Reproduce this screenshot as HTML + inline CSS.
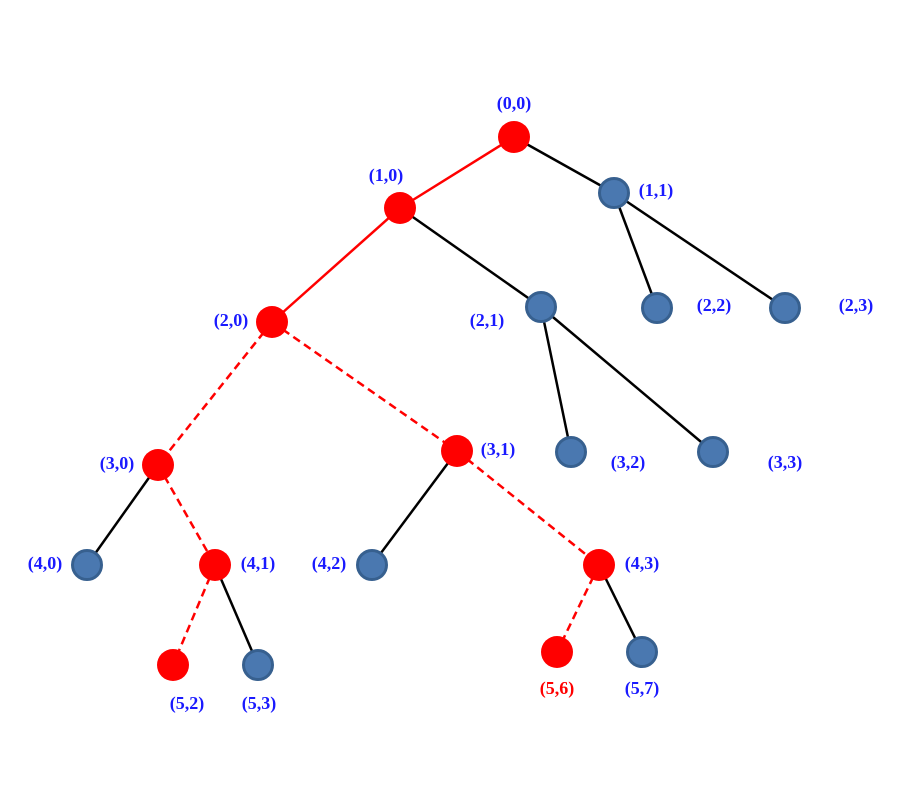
<!DOCTYPE html>
<html><head><style>body{margin:0;background:#fff}svg{display:block}text{font-family:"Liberation Serif",serif;font-weight:bold;font-size:18px;fill:#1a1aff;text-anchor:middle;dominant-baseline:middle}</style></head>
<body><svg width="900" height="800" viewBox="0 0 900 800">
<g stroke-width="2.5" fill="none">
<line x1="514" y1="137" x2="400" y2="208" stroke="#f00"/>
<line x1="514" y1="137" x2="614" y2="193" stroke="#000"/>
<line x1="400" y1="208" x2="272" y2="322" stroke="#f00"/>
<line x1="400" y1="208" x2="541" y2="307" stroke="#000"/>
<line x1="614" y1="193" x2="657" y2="308" stroke="#000"/>
<line x1="614" y1="193" x2="785" y2="308" stroke="#000"/>
<line x1="541" y1="307" x2="571" y2="452" stroke="#000"/>
<line x1="541" y1="307" x2="713" y2="452" stroke="#000"/>
<line x1="272" y1="322" x2="158" y2="465" stroke="#f00" stroke-dasharray="8,5"/>
<line x1="272" y1="322" x2="457" y2="451" stroke="#f00" stroke-dasharray="8,5"/>
<line x1="158" y1="465" x2="87" y2="565" stroke="#000"/>
<line x1="158" y1="465" x2="215" y2="565" stroke="#f00" stroke-dasharray="8,5"/>
<line x1="457" y1="451" x2="372" y2="565" stroke="#000"/>
<line x1="457" y1="451" x2="599" y2="565" stroke="#f00" stroke-dasharray="8,5"/>
<line x1="215" y1="565" x2="173" y2="665" stroke="#f00" stroke-dasharray="8,5"/>
<line x1="215" y1="565" x2="258" y2="665" stroke="#000"/>
<line x1="599" y1="565" x2="557" y2="652" stroke="#f00" stroke-dasharray="8,5"/>
<line x1="599" y1="565" x2="642" y2="652" stroke="#000"/>
</g>
<g fill="#f00">
<circle cx="514" cy="137" r="16"/><circle cx="400" cy="208" r="16"/><circle cx="272" cy="322" r="16"/>
<circle cx="158" cy="465" r="16"/><circle cx="457" cy="451" r="16"/><circle cx="215" cy="565" r="16"/>
<circle cx="599" cy="565" r="16"/><circle cx="173" cy="665" r="16"/><circle cx="557" cy="652" r="16"/>
</g>
<g fill="#4a78b0" stroke="#37608f" stroke-width="3">
<circle cx="614" cy="193" r="14.5"/><circle cx="541" cy="307" r="14.5"/><circle cx="657" cy="308" r="14.5"/>
<circle cx="785" cy="308" r="14.5"/><circle cx="571" cy="452" r="14.5"/><circle cx="713" cy="452" r="14.5"/>
<circle cx="87" cy="565" r="14.5"/><circle cx="372" cy="565" r="14.5"/><circle cx="258" cy="665" r="14.5"/>
<circle cx="642" cy="652" r="14.5"/>
</g>
<text x="514" y="105">(0,0)</text><text x="386" y="177">(1,0)</text><text x="656" y="192">(1,1)</text>
<text x="231" y="322">(2,0)</text><text x="487" y="322">(2,1)</text><text x="714" y="307">(2,2)</text>
<text x="856" y="307">(2,3)</text><text x="117" y="465">(3,0)</text><text x="498" y="451">(3,1)</text>
<text x="628" y="464">(3,2)</text><text x="785" y="464">(3,3)</text><text x="45" y="565">(4,0)</text>
<text x="258" y="565">(4,1)</text><text x="329" y="565">(4,2)</text><text x="642" y="565">(4,3)</text>
<text x="187" y="705">(5,2)</text><text x="259" y="705">(5,3)</text>
<text x="557" y="690" style="fill:#f00">(5,6)</text><text x="642" y="690">(5,7)</text>
</svg></body></html>
